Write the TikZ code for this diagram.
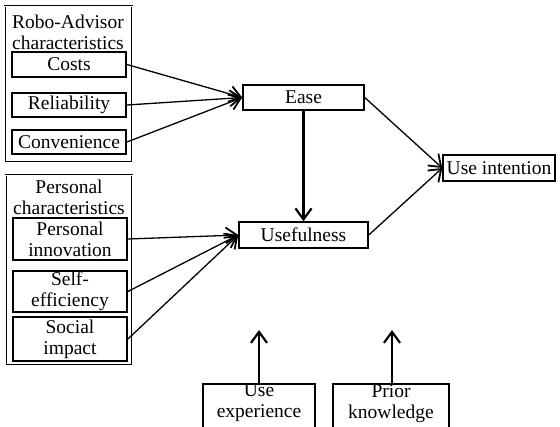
\documentclass[tikz,border=0pt]{standalone}
\usepackage{fontspec}
\setmainfont{Liberation Serif}
\usetikzlibrary{arrows.meta}
\begin{document}
\begin{tikzpicture}[x=1bp,y=-1bp,
  every node/.style={font=\fontsize{19.5bp}{21bp}\selectfont, align=center, inner sep=0pt},
  grp/.style={draw, double, double distance=1bp, line width=0.8bp, rectangle},
  inbox/.style={draw, line width=1.8bp, rectangle, minimum width=114bp},
  mainbox/.style={draw, line width=1.5bp, rectangle},
  conn/.style={line width=1.3bp, -{Straight Barb[length=11bp,width=16bp,line width=1.8bp]}},
  thick conn/.style={line width=2.2bp, -{Straight Barb[length=11bp,width=16bp,line width=2.2bp]}}]
\useasboundingbox (0,0) rectangle (560,426);
\clip (0,0) rectangle (560,426);
% group 1
\node[grp, minimum width=127bp, minimum height=156bp] (g1) at (68.5,84) {};
\node (t1) at (68,32) {Robo-Advisor\\characteristics};
\node[inbox, minimum height=25bp] (costs) at (69,64.5) {Costs};
\node[inbox, minimum height=24bp] (rel) at (69,105) {Reliability};
\node[inbox, minimum height=24bp] (conv) at (69,142) {Convenience};
% group 2
\node[grp, minimum width=126bp, minimum height=190bp] (g2) at (69,270) {};
\node (t2) at (69,197.5) {Personal\\characteristics};
\node[inbox, minimum height=42bp] (pi) at (70,239) {Personal\\innovation};
\node[inbox, minimum height=41bp] (se) at (70,291.5) {Self-\\efficiency};
\node[inbox, minimum height=44bp] (si) at (70,339) {Social\\impact};
% main
\node[mainbox, minimum width=121bp, minimum height=25bp] (ease) at (303.5,97.5) {Ease};
\node[mainbox, minimum width=129bp, minimum height=26bp] (use) at (303.5,235) {Usefulness};
\node[mainbox, minimum width=112bp, minimum height=26bp] (ui) at (499,168) {Use intention};
% bottom
\node[mainbox, minimum width=112bp, minimum height=60bp, anchor=north] (ue) at (259,383) {};
\node[anchor=north] (uet) at (259,384) {Use\\experience};
\node[mainbox, minimum width=116bp, minimum height=60bp, anchor=north] (pk) at (391,383) {};
\node[anchor=north] (pkt) at (391,384) {Prior\\knowledge};
\coordinate (uetip) at (259,330);
\coordinate (pktip) at (392,330);
% connectors
\draw[conn] (costs.east) -- (ease.west);
\draw[conn] (rel.east) -- (ease.west);
\draw[conn] (conv.east) -- (ease.west);
\draw[conn] (pi.east) -- (use.west);
\draw[conn] (se.east) -- (use.west);
\draw[conn] (si.east) -- (use.west);
\draw[thick conn] (ease.south) -- (use.north);
\draw[conn] (ease.east) -- (ui.west);
\draw[conn] (use.east) -- (ui.west);
\draw[thick conn] (ue.north) -- (uetip);
\draw[thick conn] (pk.north -| pktip) -- (pktip);
\end{tikzpicture}
\end{document}
